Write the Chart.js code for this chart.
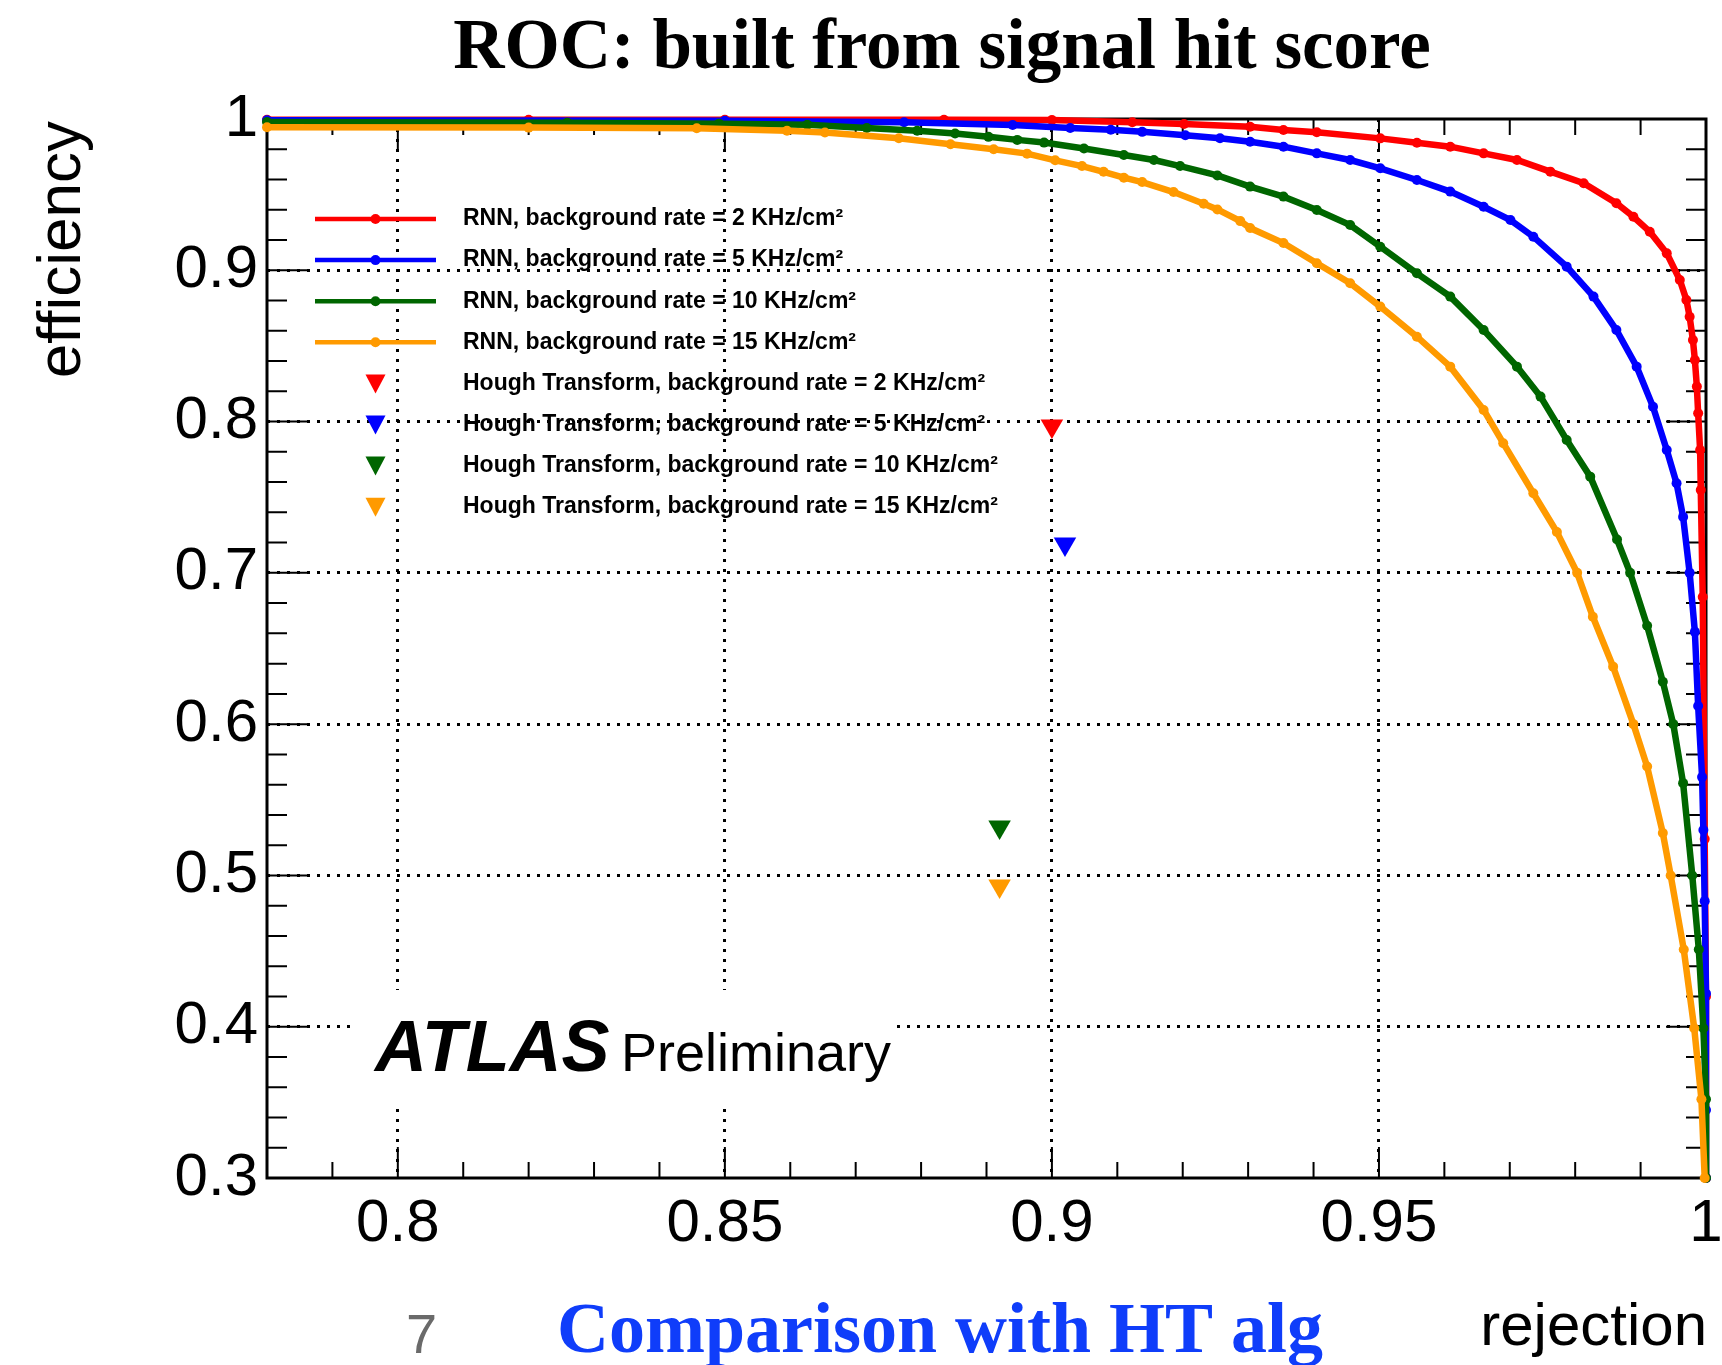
<!DOCTYPE html>
<html>
<head>
<meta charset="utf-8">
<title>ROC: built from signal hit score</title>
<script src="https://cdn.jsdelivr.net/npm/chart.js@4.4.1/dist/chart.umd.min.js"></script>
<style>
  html, body { margin: 0; padding: 0; background: #fff; }
  #wrap { position: relative; width: 1722px; height: 1365px; }
</style>
</head>
<body>
<div id="wrap"><canvas id="roc"></canvas></div>
<script>
// ROC points: x = rejection, y = efficiency
const rej2 = [0.780, 0.820, 0.850, 0.8835, 0.900, 0.9123, 0.9202, 0.9303, 0.9354, 0.9405, 0.9502, 0.9558, 0.9609, 0.966, 0.9711, 0.9762, 0.9813, 0.9863, 0.9889, 0.9914, 0.994, 0.996, 0.997, 0.9975, 0.998, 0.9983, 0.9986, 0.9988, 0.9991, 0.9992, 0.9995, 0.9998, 1.0, 1.0];
const eff2 = [0.9995, 0.9995, 0.9995, 0.9995, 0.9993, 0.9978, 0.9967, 0.9949, 0.9927, 0.9912, 0.9872, 0.9843, 0.9817, 0.9773, 0.9729, 0.9652, 0.9575, 0.9443, 0.9354, 0.9255, 0.9112, 0.8936, 0.8804, 0.8693, 0.8539, 0.8407, 0.8231, 0.8055, 0.7812, 0.7548, 0.684, 0.524, 0.42, 0.30];

const rej5 = [0.780, 0.850, 0.8774, 0.894, 0.9028, 0.909, 0.9138, 0.9204, 0.9257, 0.9303, 0.9354, 0.9405, 0.9456, 0.9502, 0.9558, 0.9609, 0.966, 0.9701, 0.9736, 0.9787, 0.9828, 0.9863, 0.9894, 0.9919, 0.994, 0.9955, 0.9965, 0.9975, 0.9983, 0.9988, 0.9994, 0.9996, 0.9998, 1.0, 1.0, 1.0];
const eff5 = [0.9992, 0.9988, 0.9978, 0.996, 0.994, 0.9929, 0.9915, 0.9893, 0.9873, 0.985, 0.9817, 0.9773, 0.9729, 0.9674, 0.9597, 0.952, 0.942, 0.9332, 0.9222, 0.9024, 0.8826, 0.8605, 0.8363, 0.8098, 0.7812, 0.7592, 0.737, 0.700, 0.661, 0.612, 0.565, 0.530, 0.483, 0.422, 0.345, 0.30];

const rej10 = [0.780, 0.8259, 0.8491, 0.8626, 0.8717, 0.8794, 0.8852, 0.8903, 0.8947, 0.8988, 0.9049, 0.911, 0.9156, 0.9196, 0.9253, 0.9303, 0.9354, 0.9405, 0.9456, 0.9502, 0.9558, 0.9609, 0.966, 0.9711, 0.9747, 0.9787, 0.9823, 0.9864, 0.9884, 0.991, 0.9934, 0.995, 0.9965, 0.9979, 0.9989, 0.9996, 1.0, 1.0];
const eff10 = [0.998, 0.9975, 0.9969, 0.9962, 0.994, 0.9922, 0.9904, 0.9882, 0.9862, 0.9844, 0.9805, 0.9762, 0.9729, 0.9689, 0.9627, 0.9553, 0.9487, 0.9399, 0.9299, 0.9156, 0.898, 0.8826, 0.8605, 0.8363, 0.8165, 0.7878, 0.7636, 0.722, 0.700, 0.665, 0.628, 0.600, 0.561, 0.500, 0.451, 0.399, 0.352, 0.30];

const rej15 = [0.780, 0.820, 0.8457, 0.8595, 0.8653, 0.8766, 0.8845, 0.8911, 0.8962, 0.9005, 0.9046, 0.9079, 0.911, 0.9138, 0.9186, 0.9232, 0.9253, 0.9288, 0.9303, 0.9354, 0.9405, 0.9456, 0.9502, 0.9558, 0.9609, 0.966, 0.969, 0.9736, 0.9772, 0.9803, 0.9827, 0.9858, 0.9889, 0.991, 0.9934, 0.9946, 0.9966, 0.9982, 0.9993, 0.9998];
const eff15 = [0.9945, 0.9943, 0.9939, 0.9922, 0.9911, 0.9873, 0.9833, 0.980, 0.9771, 0.9727, 0.9689, 0.9651, 0.9612, 0.9583, 0.9517, 0.944, 0.9402, 0.9325, 0.9279, 0.918, 0.9046, 0.8914, 0.876, 0.8561, 0.8363, 0.8077, 0.7857, 0.7526, 0.727, 0.700, 0.671, 0.638, 0.600, 0.572, 0.528, 0.500, 0.451, 0.399, 0.352, 0.30];

// Hough transform working points (2, 5, 10, 15 KHz/cm2)
const houghRej = [0.900, 0.902, 0.892, 0.892];
const houghEff = [0.797, 0.719, 0.532, 0.493];

const rates = ['2', '5', '10', '15'];
const colors = ['#ff0000', '#0000ff', '#006600', '#ff9a00'];
const rnnRej = [rej2, rej5, rej10, rej15];
const rnnEff = [eff2, eff5, eff10, eff15];

const sans = '"Liberation Sans", Arial, Helvetica, sans-serif';
const serif = '"Liberation Serif", "Times New Roman", serif';

function pts(xs, ys) {
  return xs.map((v, i) => ({ x: v, y: ys[i] }));
}

const datasets = [];
rates.forEach((r, i) => {
  datasets.push({
    label: 'RNN, background rate = ' + r + ' KHz/cm²',
    data: pts(rnnRej[i], rnnEff[i]),
    showLine: true,
    borderColor: colors[i],
    backgroundColor: colors[i],
    borderWidth: 6.5,
    pointRadius: 5,
    pointBorderWidth: 0,
    pointBackgroundColor: colors[i],
    tension: 0,
    clip: false,
    order: 4 - i + 1
  });
});
rates.forEach((r, i) => {
  datasets.push({
    label: 'Hough Transform, background rate = ' + r + ' KHz/cm²',
    data: [{ x: houghRej[i], y: houghEff[i] }],
    showLine: false,
    pointStyle: 'triangle',
    pointRotation: 180,
    pointRadius: 13,
    pointBorderWidth: 0,
    pointBackgroundColor: colors[i],
    borderColor: colors[i],
    backgroundColor: colors[i],
    clip: false,
    order: 0
  });
});

// ROOT style frame, inward ticks, legend and texts
const rootStyle = {
  id: 'rootStyle',
  beforeDatasetsDraw(chart) {
    const { ctx, chartArea: a, scales: { x, y } } = chart;
    ctx.save();

    // white box behind the ATLAS label
    ctx.fillStyle = '#fff';
    ctx.fillRect(356, 990, 541, 117);

    ctx.strokeStyle = '#000';
    ctx.lineWidth = 2;
    ctx.beginPath();
    for (let i = 0; i <= 22; i++) {
      const v = 0.78 + i * 0.01;
      const px = x.getPixelForValue(v);
      const major = Math.abs(v * 20 - Math.round(v * 20)) < 1e-6;
      const len = major ? 31 : 16;
      ctx.moveTo(px, a.bottom); ctx.lineTo(px, a.bottom - len);
      ctx.moveTo(px, a.top); ctx.lineTo(px, a.top + len);
    }
    for (let i = 0; i <= 35; i++) {
      const py = y.getPixelForValue(0.3 + i * 0.02);
      const len = i % 5 === 0 ? 40 : 20;
      ctx.moveTo(a.left, py); ctx.lineTo(a.left + len, py);
      ctx.moveTo(a.right, py); ctx.lineTo(a.right - len, py);
    }
    ctx.stroke();
    ctx.lineWidth = 3;
    ctx.strokeRect(a.left, a.top, a.right - a.left, a.bottom - a.top);
    ctx.restore();
  },
  afterDraw(chart) {
    const { ctx } = chart;
    ctx.save();

    // legend
    const top = 219, step = 41.1;
    ctx.font = 'bold 23px ' + sans;
    ctx.textBaseline = 'middle';
    ctx.textAlign = 'left';
    chart.data.datasets.forEach((ds, i) => {
      const ly = top + i * step;
      ctx.fillStyle = ds.pointBackgroundColor;
      if (ds.showLine) {
        ctx.strokeStyle = ds.borderColor;
        ctx.lineWidth = 4.5;
        ctx.beginPath();
        ctx.moveTo(315, ly); ctx.lineTo(436, ly);
        ctx.stroke();
        ctx.beginPath();
        ctx.arc(375.5, ly, 5, 0, Math.PI * 2);
        ctx.fill();
      } else {
        ctx.beginPath();
        ctx.moveTo(365.5, ly - 9);
        ctx.lineTo(385.5, ly - 9);
        ctx.lineTo(375.5, ly + 10);
        ctx.closePath();
        ctx.fill();
      }
      ctx.fillStyle = '#000';
      ctx.fillText(ds.label, 463, ly);
    });

    // title
    ctx.textBaseline = 'alphabetic';
    ctx.textAlign = 'center';
    ctx.fillStyle = '#000';
    ctx.font = 'bold 71px ' + serif;
    ctx.fillText('ROC: built from signal hit score', 942, 68);

    // axis titles
    ctx.font = '60px ' + sans;
    ctx.textAlign = 'right';
    ctx.fillText('rejection', 1707, 1345);
    ctx.save();
    ctx.translate(80, 121);
    ctx.rotate(-Math.PI / 2);
    ctx.font = '62px ' + sans;
    ctx.fillText('efficiency', 0, 0);
    ctx.restore();

    // ATLAS label
    ctx.textAlign = 'left';
    ctx.font = 'italic bold 72px ' + sans;
    ctx.fillText('ATLAS', 375, 1071);
    ctx.font = '54px ' + sans;
    ctx.fillText('Preliminary', 621, 1071);

    // slide footer
    ctx.fillStyle = '#6a6a6a';
    ctx.font = '56px ' + sans;
    ctx.fillText('7', 406, 1353);
    ctx.fillStyle = '#0f3dfa';
    ctx.font = 'bold 72px ' + serif;
    ctx.fillText('Comparison with HT alg', 557, 1352);

    ctx.restore();
  }
};

function fmt(v) {
  return String(Number(v.toFixed(3)));
}

new Chart(document.getElementById('roc'), {
  type: 'scatter',
  data: { datasets: datasets },
  options: {
    responsive: true,
    maintainAspectRatio: false,
    animation: false,
    layout: { padding: { top: 119, right: 16, bottom: 0, left: 0 } },
    plugins: {
      legend: { display: false },
      tooltip: { enabled: false }
    },
    scales: {
      x: {
        type: 'linear',
        min: 0.78,
        max: 1,
        afterFit: s => { s.height = 187; s.paddingLeft = 0; s.paddingRight = 0; },
        ticks: {
          stepSize: 0.05,
          includeBounds: false,
          autoSkip: false,
          maxRotation: 0,
          padding: 16,
          color: '#000',
          font: { family: sans, size: 60, lineHeight: 1 },
          callback: v => fmt(v)
        },
        grid: {
          drawTicks: false,
          lineWidth: 3,
          color: c => (c.tick && c.tick.value > 0.781 && c.tick.value < 0.999) ? '#000' : 'rgba(0,0,0,0)'
        },
        border: { display: false, dash: [3, 7] }
      },
      y: {
        type: 'linear',
        min: 0.3,
        max: 1,
        afterFit: s => { s.width = 267; s.paddingTop = 0; s.paddingBottom = 0; },
        ticks: {
          stepSize: 0.1,
          padding: 9,
          color: '#000',
          font: { family: sans, size: 60, lineHeight: 1 },
          callback: v => fmt(v)
        },
        grid: {
          drawTicks: false,
          lineWidth: 3,
          color: c => (c.tick && c.tick.value > 0.301 && c.tick.value < 0.999) ? '#000' : 'rgba(0,0,0,0)'
        },
        border: { display: false, dash: [3, 7] }
      }
    }
  },
  plugins: [rootStyle]
});
</script>
</body>
</html>
